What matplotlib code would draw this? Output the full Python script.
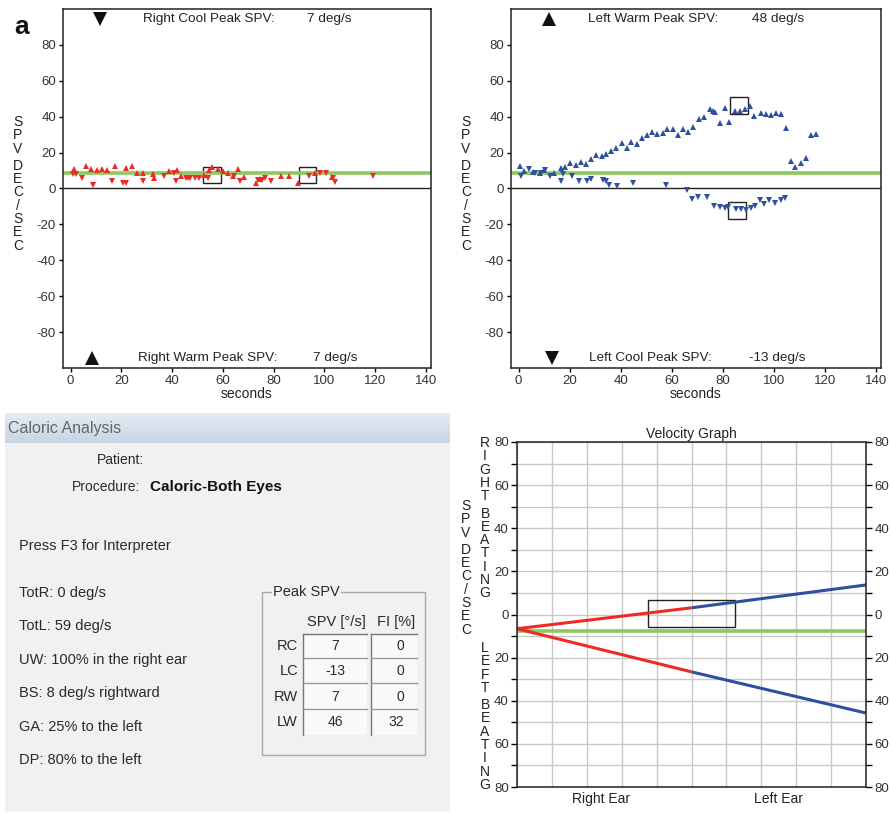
import matplotlib.pyplot as plt
from matplotlib.patches import Rectangle
from matplotlib.colors import LinearSegmentedColormap
import numpy as np

plt.rcParams['font.family'] = ['Liberation Sans', 'DejaVu Sans']
plt.rcParams['axes.unicode_minus'] = False

W, H = 893, 813

# --- right ear caloric (top left) ---
right_up_t = [1.4, 6, 8.2, 10.3, 12.4, 14.5, 17.6, 22, 24, 26, 28.6, 32.4, 32.8, 38.7, 42, 43.4,
              52.4, 54.6, 55.9, 58, 60.1, 62.1, 64, 66, 68.2, 73, 74.7, 83, 86, 89.7, 96.3, 102.9]
right_up_v = [11.1, 12.6, 10.9, 10.4, 10.6, 10.4, 12.8, 11.3, 12.8, 8.5, 8.5, 8.3, 6.1, 9.6, 10.2, 7.2,
              7.6, 10.4, 12.2, 10.9, 9.6, 8.5, 7.0, 10.7, 6.3, 3.0, 5.2, 6.7, 6.9, 2.8, 8.5, 6.3]
right_dn_t = [1, 2.1, 4.5, 8.8, 16.3, 20.5, 21.8, 28.6, 36.6, 40.7, 41.6, 45.3, 46.3, 47.1, 49.2, 50.4,
              54.1, 64.3, 66.7, 73.7, 75.3, 76.6, 78.9, 93.8, 98.3, 100.5, 103.2, 104.2, 119.2]
right_dn_v = [7.8, 7.8, 6.1, 1.9, 4.1, 3.1, 3.1, 4.1, 6.7, 8.9, 4.1, 5.6, 5.6, 5.6, 5.6, 5.6,
              6.1, 6.7, 4.3, 4.8, 4.8, 5.7, 3.9, 7.2, 8.5, 8.5, 5.7, 3.5, 6.7]
right_box_t = [55.6, 93.3]
right_box_v = [7.5, 7.5]

# --- left ear caloric (top right) ---
left_up_t = [0.4, 2.2, 5.8, 8.2, 9.9, 13.8, 16.5, 18.3, 20, 22.3, 24.4, 26.2, 28.2, 30.2, 32.5, 34.4,
             36.3, 38.2, 40.4, 42.3, 44.1, 46.5, 48.5, 50.3, 52.2, 54.4, 56.5, 58.3, 60.3, 62.6, 64.5,
             66.5, 68.4, 70.5, 72.7, 74.8, 76.1, 76.9, 78.8, 80.7, 82.3, 84.6, 86.7, 88.6, 90.6, 92.3,
             94.8, 96.8, 98.8, 100.7, 102.9, 104.7, 106.7, 108.4, 110.5, 112.7, 114.6, 116.6]
left_up_v = [12.7, 10, 9.2, 8.9, 10.2, 8.9, 11.3, 11.8, 14, 12.9, 14.6, 13.9, 16.3, 18.7, 18.3, 19.4,
             20.7, 22.7, 25.1, 22.7, 25.7, 24.6, 27.9, 29.9, 31.2, 30.3, 31, 33.1, 33.1, 29.7, 33.1,
             31.6, 34.2, 38.6, 40.1, 44.3, 43.4, 42.5, 36.6, 44.9, 37, 43.1, 43.4, 44.5, 45.8, 40.5,
             42.1, 41.4, 41, 41.8, 41.4, 33.8, 15.2, 12.2, 14.2, 17, 29.6, 30.1]
left_dn_t = [1.1, 4, 6.3, 8.6, 10.3, 12.2, 16.7, 17.5, 20.9, 23.8, 26.6, 28.3, 33.1, 34.4, 35.6, 38.7,
             44.8, 57.9, 66, 68.1, 70.1, 73.9, 76.6, 78.9, 81, 82, 85.1, 87.1, 89, 90.9, 92.6, 94.6,
             96.1, 98.1, 100.5, 102.7, 104.2]
left_dn_v = [7.2, 10.9, 8.5, 8.5, 10.2, 6.8, 3.9, 7.8, 7, 4.2, 4.1, 5.2, 4.8, 3.9, 2, 1.3,
             3.1, 2, -0.6, -5.9, -4.8, -4.8, -9.6, -10.3, -10.7, -10.3, -11.5, -11.5, -12.2, -10.9,
             -9.6, -6.5, -8.9, -6.3, -7.8, -6.3, -5.2]
left_box_t = [86.2, 85.4]
left_box_v = [46.3, -12.4]

baseline = 8.5

# --- velocity graph ---
vel_x = [0, 5, 10]
vel_upper = [-6.6, 3.1, 13.7]
vel_lower = [-6.6, -26.6, -45.7]
vel_base = -7.7

# --- caloric analysis screen ---
summary = ['TotR: 0 deg/s', 'TotL: 59 deg/s', 'UW: 100% in the right ear',
           'BS: 8 deg/s rightward', 'GA: 25% to the left', 'DP: 80% to the left']
peak_rows = ['RC', 'LC', 'RW', 'LW']
peak_spv = [7, -13, 7, 46]
peak_fi = [0, 0, 0, 32]

RED = '#ee2a24'
BLUE = '#2f4f9f'
GREEN = '#8dc85f'
DARK = '#222222'

fig = plt.figure(figsize=(W / 100, H / 100), dpi=100)


def stack(word, x, y, step=13.3, gap=4, size=10):
    for ch in word:
        if ch == ' ':
            y += gap
            continue
        fig.text(x / W, 1 - y / H, ch, ha='center', va='center', fontsize=size, color=DARK)
        y += step


def spv_panel(rect, up_t, up_v, dn_t, dn_v, color, box_t, box_v, top, bottom):
    ax = fig.add_axes(rect)
    ax.set_xlim(-3, 142)
    ax.set_ylim(-100, 100)
    ax.axhline(0, color=DARK, lw=1)
    ax.axhline(baseline, color=GREEN, lw=2.6)
    ax.plot(up_t, up_v, '^', color=color, ms=4.2, mew=0)
    ax.plot(dn_t, dn_v, 'v', color=color, ms=4.2, mew=0)
    for t, v in zip(box_t, box_v):
        ax.add_patch(Rectangle((t - 3.5, v - 4.7), 7, 9.4, fill=False, ec=DARK, lw=1))
    for (mk, mx, txt, tx, val, vx), y in ((top, 94.5), (bottom, -94.5)):
        ax.plot(mx, y, mk, color='#111', ms=10, mew=0)
        ax.text(tx, y, txt, ha='left', va='center', fontsize=9.7, color=DARK)
        ax.text(vx, y, val, ha='left', va='center', fontsize=9.7, color=DARK)
    ax.set_xticks(np.arange(0, 141, 20))
    ax.set_yticks(np.arange(-80, 81, 20))
    ax.tick_params(labelsize=9.5, labelcolor='#333', length=3, width=1, pad=2)
    ax.set_xlabel('seconds', fontsize=10, labelpad=0, color=DARK)
    for s in ax.spines.values():
        s.set_color(DARK)
        s.set_linewidth(1.1)
    return ax


spv_panel([63 / W, 1 - 368 / H, 368 / W, 359 / H], right_up_t, right_up_v, right_dn_t, right_dn_v,
          RED, right_box_t, right_box_v,
          ('v', 11.7, 'Right Cool Peak SPV:', 28.4, '7 deg/s', 93.3),
          ('^', 8.4, 'Right Warm Peak SPV:', 26.4, '7 deg/s', 95.7))
spv_panel([511 / W, 1 - 368 / H, 370 / W, 359 / H], left_up_t, left_up_v, left_dn_t, left_dn_v,
          BLUE, left_box_t, left_box_v,
          ('^', 11.9, 'Left Warm Peak SPV:', 27, '48 deg/s', 91.3),
          ('v', 12.9, 'Left Cool Peak SPV:', 27.7, '-13 deg/s', 90.2))

fig.text(14 / W, 1 - 27 / H, 'a', fontsize=19, fontweight='bold', va='center', color='#111')
stack('SPV DEC/SEC', 18, 122)
stack('SPV DEC/SEC', 466, 122)

# velocity graph
vax = fig.add_axes([517 / W, 1 - 787 / H, 349 / W, 345 / H])
vax.set_xlim(0, 10)
vax.set_ylim(-80, 80)
vax.set_xticks(np.arange(0, 11, 1))
vax.set_xticklabels([])
vax.set_yticks(np.arange(-80, 81, 20))
vax.set_yticks(np.arange(-70, 80, 20), minor=True)
vax.set_yticklabels([str(abs(v)) for v in range(-80, 81, 20)])
vax.grid(True, which='both', color='#c8c8c8', lw=1)
vax.set_axisbelow(True)
vax.tick_params(axis='x', length=0)
vax.tick_params(axis='y', which='both', right=True, labelright=True, length=4, width=1,
                labelsize=9.5, labelcolor='#333', pad=2)
vax.axhline(vel_base, color=GREEN, lw=2.6)
vax.plot(vel_x[:2], vel_upper[:2], color=RED, lw=2.2, solid_capstyle='butt')
vax.plot(vel_x[1:], vel_upper[1:], color=BLUE, lw=2.2, solid_capstyle='butt')
vax.plot(vel_x[:2], vel_lower[:2], color=RED, lw=2.2, solid_capstyle='butt')
vax.plot(vel_x[1:], vel_lower[1:], color=BLUE, lw=2.2, solid_capstyle='butt')
vax.add_patch(Rectangle((3.75, -6), 2.5, 12.5, fill=False, ec=DARK, lw=1))
vax.set_title('Velocity Graph', fontsize=10, pad=3, color=DARK)
vax.text(2.4, -0.015, 'Right Ear', transform=vax.get_xaxis_transform(), ha='center', va='top',
         fontsize=10, color=DARK)
vax.text(7.5, -0.015, 'Left Ear', transform=vax.get_xaxis_transform(), ha='center', va='top',
         fontsize=10, color=DARK)
for s in vax.spines.values():
    s.set_color(DARK)
    s.set_linewidth(1.1)
stack('SPV DEC/SEC', 466, 506)
stack('RIGHT BEATING', 485, 443)
stack('LEFT BEATING', 485, 648)

# caloric analysis screen
pax = fig.add_axes([0, 0, 450 / W, 403 / H])
pax.set_xlim(0, 450)
pax.set_ylim(813, 410)
pax.axis('off')
pax.add_patch(Rectangle((5, 413), 445, 399, fc='#f1f1f1', ec='none'))
grad = np.linspace(0, 1, 30).reshape(-1, 1)
pax.imshow(grad, extent=(5, 450, 443, 413),
           cmap=LinearSegmentedColormap.from_list('bar', ['#e4ecf4', '#c7d5e3']),
           aspect='auto', zorder=1)
pax.text(8, 428, 'Caloric Analysis', fontsize=11.5, color='#666', va='center')
pax.text(97, 460, 'Patient:', fontsize=10, color='#2a2a2a', va='center')
pax.text(72, 487, 'Procedure:', fontsize=10, color='#2a2a2a', va='center')
pax.text(150, 487, 'Caloric-Both Eyes', fontsize=11, fontweight='bold', color='#111', va='center')
pax.text(19, 546, 'Press F3 for Interpreter', fontsize=10.5, color='#2a2a2a', va='center')
for i, line in enumerate(summary):
    pax.text(19, 593 + i * 33.4, line, fontsize=10.5, color='#2a2a2a', va='center')

# peak spv group box
pax.add_patch(Rectangle((262, 592), 163, 163, fill=False, ec='#a8a8a8', lw=1))
pax.text(273, 592, 'Peak SPV', fontsize=10.5, color='#2a2a2a', va='center',
         bbox=dict(fc='#f1f1f1', ec='none', pad=1))
pax.text(336, 622, 'SPV [°/s]', fontsize=10.5, color='#2a2a2a', ha='center', va='center')
pax.text(396, 622, 'FI [%]', fontsize=10.5, color='#2a2a2a', ha='center', va='center')
for x0, x1 in ((303, 367), (371, 417)):
    pax.add_patch(Rectangle((x0, 634), x1 - x0, 101, fc='#f9f9f9', ec='none'))
    pax.plot([x0, x1], [634, 634], color='#777', lw=1)
    pax.plot([x0, x0], [634, 735], color='#777', lw=1)
    for ys in (658, 683, 709):
        pax.plot([x0, x1], [ys, ys], color='#999', lw=1)
for i, (lab, spv, fi) in enumerate(zip(peak_rows, peak_spv, peak_fi)):
    yc = 646 + i * 25.3
    pax.text(298, yc, lab, fontsize=10.5, color='#2a2a2a', ha='right', va='center')
    pax.text(335, yc, str(spv), fontsize=10, color='#2a2a2a', ha='center', va='center')
    pax.text(404, yc, str(fi), fontsize=10, color='#2a2a2a', ha='right', va='center')

fig.savefig('out.png', dpi=100)
